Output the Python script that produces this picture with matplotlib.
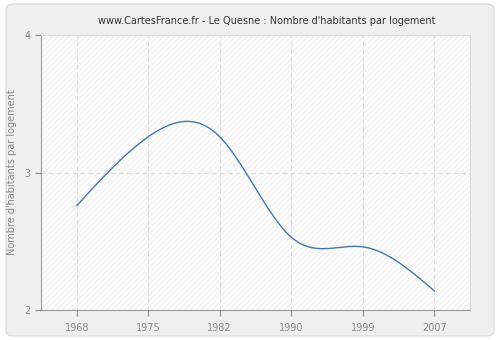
import numpy as np
import matplotlib
matplotlib.use("Agg")
import matplotlib.pyplot as plt
from matplotlib.patches import FancyBboxPatch

years = ["1968", "1975", "1982", "1990", "1999", "2007"]
values = [2.76, 3.26, 3.26, 2.53, 2.46, 2.14]
yticks = [2, 3, 4]
title = "www.CartesFrance.fr - Le Quesne : Nombre d'habitants par logement"
ylabel = "Nombre d'habitants par logement"


def natural_spline(x, y, n=400):
    x = np.asarray(x, float); y = np.asarray(y, float)
    k = len(x)
    h = np.diff(x)
    A = np.zeros((k, k)); b = np.zeros(k)
    A[0, 0] = A[-1, -1] = 1
    for i in range(1, k - 1):
        A[i, i - 1] = h[i - 1]; A[i, i] = 2 * (h[i - 1] + h[i]); A[i, i + 1] = h[i]
        b[i] = 3 * ((y[i + 1] - y[i]) / h[i] - (y[i] - y[i - 1]) / h[i - 1])
    c = np.linalg.solve(A, b)
    xs = np.linspace(x[0], x[-1], n); ys = np.empty_like(xs)
    for j, xv in enumerate(xs):
        i = min(np.searchsorted(x, xv, side="right") - 1, k - 2)
        dx = xv - x[i]
        bi = (y[i + 1] - y[i]) / h[i] - h[i] * (2 * c[i] + c[i + 1]) / 3
        di = (c[i + 1] - c[i]) / (3 * h[i])
        ys[j] = y[i] + bi * dx + c[i] * dx ** 2 + di * dx ** 3
    return xs, ys


plt.rcParams["hatch.linewidth"] = 0.5
fig = plt.figure(figsize=(5, 3.4), dpi=100)
fig.patch.set_facecolor("white")
bg = FancyBboxPatch((0.012, 0.012), 0.976, 0.976, boxstyle="round,pad=0,rounding_size=0.015",
                    transform=fig.transFigure, facecolor="#efefef", edgecolor="#dddddd", lw=1,
                    zorder=-10)
fig.patches.append(bg)

ax = fig.add_axes([0.082, 0.088, 0.858, 0.809])
ax.set_facecolor("#fbfbfb")
ax.patch.set_hatch("//////")
ax.patch.set_edgecolor("#ececec")

idx = np.arange(len(years))
xs, ys = natural_spline(idx, values)
ax.plot(xs, ys, color="#4a77aa", lw=1.0, zorder=3)

ax.set_xlim(-0.5, 5.5)
ax.set_ylim(2, 4)
ax.set_xticks(idx)
ax.set_xticklabels(years)
ax.set_yticks(yticks)
ax.grid(True, color="#dddddd", linestyle=(0, (4, 3)), lw=0.8)
ax.set_axisbelow(True)

for s in ["top", "right"]:
    ax.spines[s].set_color("#dddddd")
for s in ["left", "bottom"]:
    ax.spines[s].set_color("#999999")
ax.tick_params(colors="#888888", labelsize=7, length=4, width=0.8)
ax.tick_params(axis="x", pad=5)
ax.set_ylabel(ylabel, fontsize=7, color="#888888", labelpad=5)
fig.text(0.534, 0.925, title, ha="center", va="bottom", fontsize=7, color="#333333")

fig.savefig("out.png", dpi=100, facecolor=fig.get_facecolor())
